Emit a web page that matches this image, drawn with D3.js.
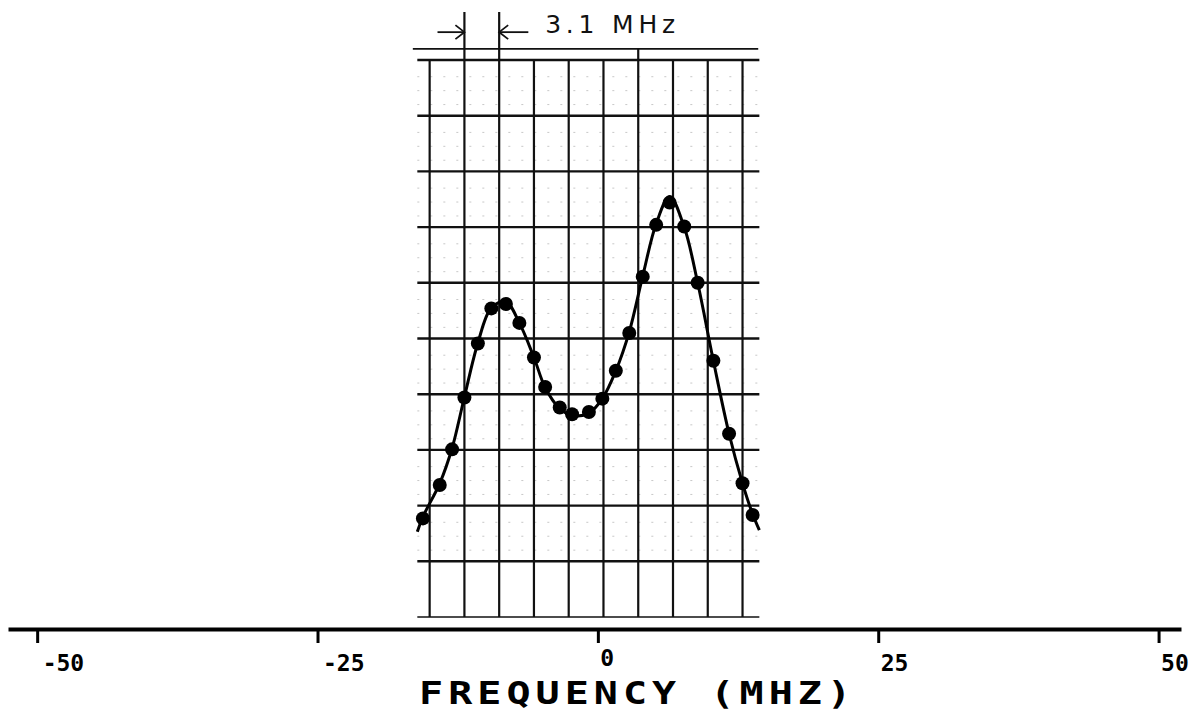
<!DOCTYPE html>
<html>
<head>
<meta charset="utf-8">
<script src="https://cdnjs.cloudflare.com/ajax/libs/d3/7.8.5/d3.min.js"></script>
<style>
body { margin: 0; background: #fff; }
svg { display: block; }
</style>
</head>
<body>
<svg width="1202" height="722"></svg>
<script>
// measured points, frequency in MHz, level in grid divisions
var freqs  = [-15.6, -14.1, -13.0, -11.9, -10.7, -9.5, -8.2, -7.0, -5.7, -4.7, -3.4, -2.3, -0.8,
              0.4, 1.6, 2.8, 4.0, 5.2, 6.4, 7.7, 8.9, 10.3, 11.7, 12.9, 13.8];
var levels = [1.77, 2.37, 3.01, 3.94, 4.91, 5.54, 5.62, 5.28, 4.66, 4.13, 3.76, 3.64, 3.68,
              3.92, 4.42, 5.10, 6.11, 7.04, 7.44, 7.01, 6.00, 4.60, 3.29, 2.40, 1.83];

// recorder trace, read at the paper edges and the peaks
var traceFreqs  = [-16.1, -15.6, -14.1, -13.0, -11.9, -10.7, -9.5, -8.2, -7.0, -5.7, -4.7, -3.4, -2.3, -0.8,
                   0.4, 1.6, 2.8, 4.0, 5.2, 6.4, 7.7, 8.9, 10.3, 11.7, 12.9, 13.8, 14.4];
var traceLevels = [1.53, 1.80, 2.40, 3.03, 3.95, 4.92, 5.55, 5.66, 5.28, 4.66, 4.12, 3.74, 3.62, 3.66,
                   3.92, 4.42, 5.12, 6.12, 7.06, 7.55, 7.00, 6.00, 4.60, 3.29, 2.40, 1.85, 1.56];

// chart paper grid (3.1 MHz per division)
var gridFreqs = [-15.0, -11.9, -8.8, -5.7, -2.6, 0.5, 3.6, 6.7, 9.8, 12.9];
var gridRows = [0, 1, 2, 3, 4, 5, 6, 7, 8, 9, 10];
var paperLeft = -16.1, paperRight = 14.4;

var axisTicks = [-50, -25, 0, 25, 50];
var axisLabels = ["-50", "-25", "0", "25", "50"];

var svg = d3.select("svg");

var xScale = d3.scaleLinear()
	.domain([-52.6, 52])
	.range([8, 1181]);

var yScale = d3.scaleLinear()
	.domain([0, 10])
	.range([617, 60]);

// faint dotted minor rulings
var minorRows = d3.range(1, 10).flatMap(function(r) { return [r + 0.2, r + 0.45, r + 0.7]; });
svg.append("g")
	.selectAll("line")
	.data(minorRows)
	.enter().append("line")
	.attr("x1", xScale(paperLeft))
	.attr("x2", xScale(paperRight))
	.attr("y1", function(d) { return yScale(d); })
	.attr("y2", function(d) { return yScale(d); })
	.attr("stroke", "#888")
	.attr("stroke-width", 1)
	.attr("stroke-dasharray", "2,11")
	.attr("opacity", 0.45);

// horizontal rulings
svg.append("g")
	.selectAll("line")
	.data(gridRows)
	.enter().append("line")
	.attr("x1", xScale(paperLeft))
	.attr("x2", xScale(paperRight))
	.attr("y1", function(d) { return yScale(d); })
	.attr("y2", function(d) { return yScale(d); })
	.attr("stroke", "#111")
	.attr("stroke-width", function(d) { return d == 0 ? 1.5 : 2.4; });

// top double line
svg.append("line")
	.attr("x1", xScale(-16.5))
	.attr("x2", xScale(14.3))
	.attr("y1", yScale(10.2))
	.attr("y2", yScale(10.2))
	.attr("stroke", "#111")
	.attr("stroke-width", 1.8);

// vertical rulings, two of them carry the 3.1 MHz marker
svg.append("g")
	.selectAll("line")
	.data(gridFreqs)
	.enter().append("line")
	.attr("x1", function(d) { return xScale(d); })
	.attr("x2", function(d) { return xScale(d); })
	.attr("y1", yScale(0))
	.attr("y2", function(d) {
		if (d == -11.9 || d == -8.8) return yScale(10.86);
		if (d == 3.6) return yScale(10.2);
		return yScale(10);
	})
	.attr("stroke", "#111")
	.attr("stroke-width", 2.2);

// marker arrows
var arrowY = yScale(10.5);
function arrow(from, to) {
	var x0 = xScale(from), x1 = xScale(to);
	var dir = x1 > x0 ? -1 : 1;
	svg.append("line")
		.attr("x1", x0).attr("x2", x1)
		.attr("y1", arrowY).attr("y2", arrowY)
		.attr("stroke", "#111").attr("stroke-width", 1.8);
	svg.append("path")
		.attr("d", "M" + (x1 + dir * 9) + "," + (arrowY - 7) + "L" + x1 + "," + arrowY + "L" + (x1 + dir * 9) + "," + (arrowY + 7))
		.attr("fill", "none")
		.attr("stroke", "#111")
		.attr("stroke-width", 1.8);
}
arrow(-14.3, -11.9);
arrow(-6.2, -8.8);

svg.append("text")
	.attr("x", xScale(-4.7))
	.attr("y", yScale(10.48))
	.attr("font-family", "'DejaVu Sans'")
	.attr("font-size", 25)
	.attr("textLength", 130)
	.attr("lengthAdjust", "spacing")
	.attr("fill", "#111")
	.text("3.1 MHz");

// recorder trace
var line = d3.line()
	.x(function(d) { return xScale(d[0]); })
	.y(function(d) { return yScale(d[1]); })
	.curve(d3.curveCatmullRom);

svg.append("path")
	.datum(d3.zip(traceFreqs, traceLevels))
	.attr("d", line)
	.attr("fill", "none")
	.attr("stroke", "#000")
	.attr("stroke-width", 3);

// measured points
svg.append("g")
	.selectAll("circle")
	.data(d3.zip(freqs, levels))
	.enter().append("circle")
	.attr("cx", function(d) { return xScale(d[0]); })
	.attr("cy", function(d) { return yScale(d[1]); })
	.attr("r", 7)
	.attr("fill", "#000");

// frequency axis
var xAxis = d3.axisBottom(xScale)
	.tickValues(axisTicks)
	.tickSize(14)
	.tickSizeOuter(0)
	.tickFormat(function(d, i) { return axisLabels[i]; });

var axisG = svg.append("g")
	.attr("transform", "translate(0, 629)")
	.call(xAxis);

axisG.select(".domain")
	.attr("stroke", "#000")
	.attr("stroke-width", 4);

axisG.selectAll(".tick line")
	.attr("stroke", "#000")
	.attr("stroke-width", 3);

axisG.selectAll(".tick text")
	.attr("text-anchor", "start")
	.attr("x", function(d) { return d < 0 ? 5 : 2; })
	.attr("y", function(d) { return d == 0 ? 37 : 42; })
	.attr("dy", 0)
	.attr("font-family", "'DejaVu Sans Mono'")
	.attr("font-weight", "bold")
	.attr("font-size", 23)
	.attr("fill", "#000");

// axis title, glyphs stretched to match the plotter lettering
svg.append("text")
	.attr("transform", "translate(419, 704) scale(1.25, 1)")
	.attr("font-family", "'DejaVu Sans Mono'")
	.attr("font-weight", "bold")
	.attr("font-size", 32)
	.attr("textLength", 432 / 1.25)
	.attr("lengthAdjust", "spacing")
	.attr("fill", "#000")
	.text("FREQUENCY (MHZ)");
</script>
</body>
</html>
